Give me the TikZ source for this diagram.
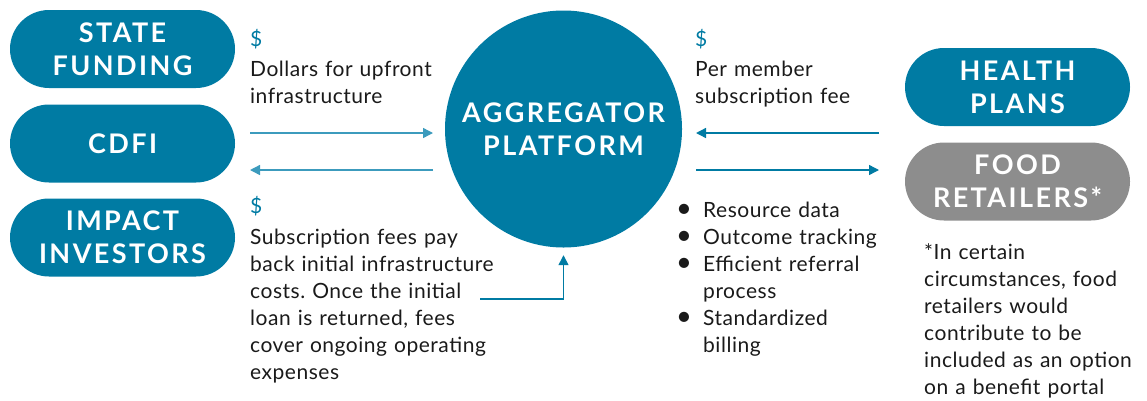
\documentclass[tikz,border=0pt]{standalone}
\usepackage{fontspec}
\setmainfont{Lato}[LetterSpace=2.5]
\newfontfamily\pillfont{Lato}[LetterSpace=9]
\usetikzlibrary{arrows.meta, shapes.misc}
\definecolor{aggblue}{RGB}{0,123,163}
\definecolor{retailgrey}{RGB}{141,141,141}
\definecolor{lightflow}{RGB}{60,155,189}
\definecolor{inkgrey}{RGB}{26,26,26}
\newcommand{\pilltext}{\pillfont\bfseries\fontsize{27}{33}\selectfont}
\newcommand{\notetext}{\fontsize{21}{27}\selectfont\frenchspacing}
\newcommand{\bul}{\makebox[28pt][l]{\hspace{1pt}\scalebox{1.3}{•}}}

\begin{document}
\begin{tikzpicture}[x=1pt, y=-1pt,
  pill/.style={rounded rectangle, fill=aggblue, text=white, minimum width=225pt, minimum height=78pt, inner sep=0pt, align=center, font=\pilltext},
  note/.style={anchor=base west, align=left, text width=#1, inner sep=0pt, font=\notetext, text=inkgrey},
  cash/.style={anchor=base west, inner sep=0pt, text=aggblue, font=\notetext},
  flow/.style={draw=#1, line width=1.4pt, -{Triangle[length=10pt,width=10pt]}}]
\useasboundingbox (0,0) rectangle (1147,400);
\node[pill] (state) at (122.5,49) {STATE\\FUNDING};
\node[pill] (cdfi) at (122.5,143.5) {CDFI};
\node[pill] (impact) at (122.5,237.5) {IMPACT\\INVESTORS};
\node[pill] (health) at (1017.5,87) {HEALTH\\PLANS};
\node[pill, fill=retailgrey] (food) at (1017.5,181.5) {FOOD\\RETAILERS*};
\node[circle, fill=aggblue, minimum size=237pt, inner sep=0pt, text=white, align=center, font=\pilltext] (agg) at (563.5,129) {AGGREGATOR\\PLATFORM};

\node[cash] (cash1) at (250,46) {\$};
\node[note=200pt] (upfront) at (250,76) {Dollars for upfront\\infrastructure};
\node[cash] (cash2) at (250,213) {\$};
\node[note=260pt] (payback) at (250,244) {Subscription fees pay\\back initial infrastructure\\costs. Once the initial\\loan is returned, fees\\cover ongoing operating\\expenses};
\node[cash] (cash3) at (695,46) {\$};
\node[note=200pt] (fee) at (695,76) {Per member\\subscription fee};
\node[note=220pt] (perks) at (675,217) {\bul Resource data\\\bul Outcome tracking\\\bul Efficient referral\\\hspace*{28pt}process\\\bul Standardized\\\hspace*{28pt}billing};
\node[note=220pt] (footnote) at (924,259) {*In certain\\circumstances, food\\retailers would\\contribute to be\\included as an option\\on a benefit portal};

\coordinate (fundtail) at (250,133);
\coordinate (fundtip) at (433,133);
\coordinate (backtail) at (433,170);
\coordinate (backtip) at (250,170);
\coordinate (feetail) at (879,133);
\coordinate (feetip) at (696,133);
\coordinate (datatail) at (696,170);
\coordinate (datatip) at (879,170);
\coordinate (loanend) at (480,299);

\draw[flow=lightflow] (fundtail) -- (fundtip);
\draw[flow=lightflow] (backtail) -- (backtip);
\draw[flow=aggblue] (feetail) -- (feetip);
\draw[flow=aggblue] (datatail) -- (datatip);
\draw[flow=aggblue, shorten >=7.5pt] (loanend) -| (agg.south);
\end{tikzpicture}
\end{document}
